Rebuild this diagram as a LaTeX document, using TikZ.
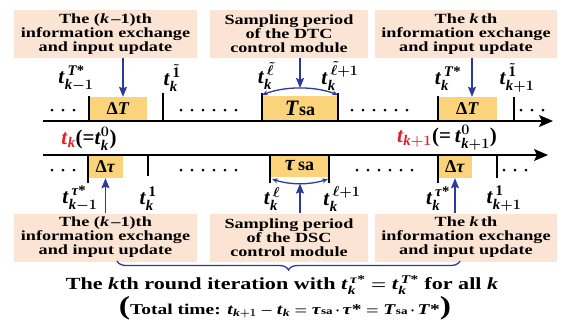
\documentclass[tikz,border=0pt]{standalone}
\usepackage{amsmath}
\usepackage{fontspec}
\setmainfont{Liberation Serif}
\newfontfamily\wide{Liberation Serif}[FakeStretch=1.3]
\usetikzlibrary{arrows.meta,decorations.pathreplacing}
\definecolor{peach}{RGB}{252,228,212}
\definecolor{ybox}{RGB}{250,211,122}
\definecolor{dblue}{RGB}{43,58,156}
\definecolor{tred}{RGB}{228,30,38}
\newcommand{\Tt}{\textbf{\textit{t}}}
\newcommand{\Tk}{\textbf{\textit{k}}}
\newcommand{\TT}{\textbf{\textit{T}}}
\newcommand{\Ttau}{\textbf{\textit{τ}}}
\newcommand{\st}{\textbf{*}}
\begin{document}
\begin{tikzpicture}[x=1pt,y=-1pt,
  infobox/.style={fill=peach, minimum width=#1, minimum height=48pt, inner sep=0pt, align=center,
    font=\wide\bfseries\fontsize{14}{14}\selectfont},
  ybx/.style={fill=ybox, inner sep=0pt, font=\bfseries\fontsize{18}{18}\selectfont},
  lab/.style={inner sep=0pt, font=\bfseries\boldmath\fontsize{21}{21}\selectfont},
  axis/.style={line width=1.3pt, -{Stealth[length=14pt,width=12pt,inset=3pt]}},
  tick/.style={line width=1.5pt},
  barrow/.style={dblue, line width=1.4pt, -{Stealth[length=10pt,width=8pt,inset=1.5pt]}},
  barc/.style={dblue, line width=1.3pt, {Stealth[length=6pt,width=5pt]}-{Stealth[length=6pt,width=5pt]}},
  dot/.style={fill=black}
]
\useasboundingbox (0,0) rectangle (563,322);

% info boxes top
\node[infobox=183pt] (iTL) at (105.5,34) {The (\textit{k}\,–1)th\\information exchange\\and input update};
\node[infobox=158pt] (iTM) at (289,34) {Sampling period\\of the DTC\\control module};
\node[infobox=182pt] (iTR) at (466,34) {The \textit{k}\,th\\information exchange\\and input update};
% info boxes bottom
\node[infobox=183pt] (iBL) at (105.5,237.5) {The (\textit{k}\,–1)th\\information exchange\\and input update};
\node[infobox=158pt] (iBM) at (289,237.5) {Sampling period\\of the DSC\\control module};
\node[infobox=182pt] (iBR) at (466,237.5) {The \textit{k}\,th\\information exchange\\and input update};

% yellow boxes top
\node[ybx, minimum width=58pt, minimum height=24pt] (dT1) at (118,109) {Δ\textit{T}};
\node[ybx, minimum width=76pt, minimum height=25pt] (Tsa) at (300,108.5) {{\fontsize{22}{22}\selectfont\textit{T}}sa};
\node[ybx, minimum width=59pt, minimum height=24pt] (dT2) at (467.5,109) {Δ\textit{T}};
% yellow boxes bottom
\node[ybx, minimum width=35pt, minimum height=23pt] (dt1) at (105.5,166.5) {Δ\textit{τ}};
\node[ybx, minimum width=59pt, minimum height=22pt] (tsa) at (299.5,166) {{\fontsize{22}{22}\selectfont\textit{τ}}\,sa};
\node[ybx, minimum width=34pt, minimum height=23pt] (dt2) at (455,166.5) {Δ\textit{τ}};

% timelines
\coordinate (A1) at (43,121); \coordinate (A1e) at (553,121);
\coordinate (A2) at (43,155); \coordinate (A2e) at (548,155);
\draw[axis] (A1) -- (A1e);
\draw[axis] (A2) -- (A2e);

% ticks top
\foreach \x/\t in {89/96,163/93,262/93,338/93,438/96,514/97} \draw[tick] (\x,\t) -- (\x,121);
% ticks bottom
\foreach \x/\b in {88/183,148/176,270/183,329/183,438/183,497/178} \draw[tick] (\x,155) -- (\x,\b);

% dots
\foreach \x in {52,63,74,181,192,203,214,225,236,352,363,374,385,396,407,521,532,543}
  \fill[dot] (\x,110) circle (1.5pt);
\foreach \x in {52,63,74,181,192,203,214,225,236,357,368,379,390,401,412,504,515,526}
  \fill[dot] (\x,170) circle (1.5pt);

% top labels
\node[lab] (lt1) at (76,79) {$\Tt^{\,\TT\st}_{\Tk-1}$};
\node[lab] (lt2) at (172,78) {$\Tt^{\,\tilde{\textbf{1}}}_{\Tk}$};
\node[lab] (lt3) at (266,76) {$\Tt^{\,\tilde{\ell}}_{\Tk}$};
\node[lab] (lt4) at (340,76) {$\Tt^{\,\tilde{\ell}+1}_{\Tk}$};
\node[lab] (lt5) at (448,79) {$\Tt^{\,\TT\st}_{\Tk}$};
\node[lab] (lt6) at (517,78) {$\Tt^{\,\tilde{\textbf{1}}}_{\Tk+1}$};
% middle labels
\node[lab] (m1) at (89,139) {\textcolor{tred}{$\Tt_{\Tk}$}(=$\Tt^{0}_{\Tk}$)};
\node[lab] (m2) at (447,138) {\textcolor{tred}{$\Tt_{\Tk+1}$}(=$\,\Tt^{0}_{\Tk+1}$)};
% bottom labels
\node[lab] (lb1) at (80,199) {$\Tt^{\,\Ttau\st}_{\Tk-1}$};
\node[lab] (lb2) at (148,199) {$\Tt^{\,\textbf{1}}_{\Tk}$};
\node[lab] (lb3) at (272,199) {$\Tt^{\,\ell}_{\Tk}$};
\node[lab] (lb4) at (342,199) {$\Tt^{\,\ell+1}_{\Tk}$};
\node[lab] (lb5) at (438,199) {$\Tt^{\,\Ttau\st}_{\Tk}$};
\node[lab] (lb6) at (504,199) {$\Tt^{\,\textbf{1}}_{\Tk+1}$};

% blue arrows
\coordinate (xL) at (123,0); \coordinate (xR) at (472,0);
\draw[barrow] (iTL.south -| xL) -- (dT1.north -| xL);
\draw[barrow] (iTR.south -| xR) -- (dT2.north -| xR);
\coordinate (ctop) at (300,88); \coordinate (cbot) at (300,183.5);
\draw[barrow] (iTM.south -| ctop) -- (ctop);
\draw[barrow] (iBM.north -| cbot) -- (cbot);
\draw[barrow] (iBL.north -| dt1) -- (dt1.south);
\draw[barrow] (iBR.north -| dt2) -- (dt2.south);
% arcs
\coordinate (a1) at (262,95); \coordinate (a2) at (338,95);
\draw[barc] (a1) .. controls (285,86) and (315,86) .. (a2);
\coordinate (b1) at (272,179); \coordinate (b2) at (328,179);
\draw[barc] (b1) .. controls (290,185) and (310,185) .. (b2);

% brace
\coordinate (br1) at (117,261); \coordinate (br2) at (460,261);
\draw[dblue, line width=1.3pt, decorate, decoration={brace, mirror, amplitude=9pt}] (br1) -- (br2);

% bottom text
\node[inner sep=0pt, font=\wide\bfseries\boldmath\fontsize{17}{17}\selectfont] (cap1) at (282,285)
  {The \textit{k}th round iteration with $\Tt^{\,\Ttau\st}_{\Tk} = \Tt^{\,\TT\st}_{\Tk}$ for all \textit{k}};
\node[inner sep=0pt, font=\wide\bfseries\boldmath\fontsize{15}{15}\selectfont] (cap2) at (285,308)
  {{\fontsize{26}{26}\selectfont(}Total time: $\Tt_{\Tk+1} - \Tt_{\Tk} = \Ttau${\fontsize{10}{10}\selectfont sa}$\,\cdot\,\Ttau\st = \TT${\fontsize{10}{10}\selectfont sa}$\,\cdot\,\TT\st${\fontsize{26}{26}\selectfont)}};
\end{tikzpicture}
\end{document}
